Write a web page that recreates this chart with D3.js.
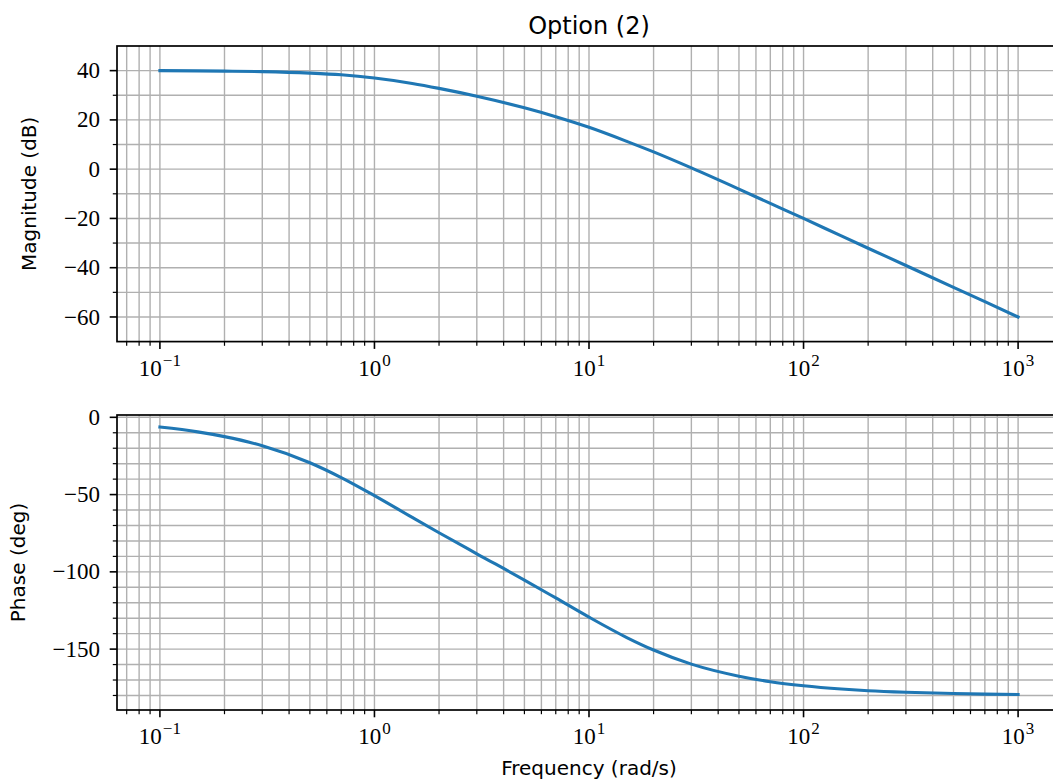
<!DOCTYPE html>
<html>
<head>
<meta charset="utf-8">
<script src="https://cdnjs.cloudflare.com/ajax/libs/d3/7.8.5/d3.min.js"></script>
<style>
  body { margin: 0; background: #fff; }
  svg { display: block; background: #fff; }
  .tick-label { font-family: "Liberation Serif", "DejaVu Serif", serif; font-size: 23px; fill: #000; }
  .axis-label { font-family: "DejaVu Sans", sans-serif; font-size: 20px; fill: #000; }
  .title { font-family: "DejaVu Sans", sans-serif; font-size: 24px; fill: #000; }
</style>
</head>
<body>
<svg id="chart" width="1053" height="783"></svg>
<script>
// DATA -----------------------------------------------------------
const freqs = [0.1, 0.15, 0.2, 0.3, 0.5, 0.7, 1, 1.5, 2, 3, 5, 7, 10, 15, 20, 30, 50, 70, 100, 150, 200, 300, 500, 700, 1000]
const magnitudeDb = [40.0, 39.9, 39.8, 39.6, 39.0, 38.3, 37.0, 34.8, 32.8, 29.6, 24.9, 21.3, 17.0, 11.3, 7.0, 0.5, -8.1, -13.9, -20.0, -27.1, -32.1, -39.1, -48.0, -53.8, -60.0]
const phaseDeg = [-6.3, -9.4, -12.5, -18.4, -29.4, -39.0, -50.7, -64.8, -74.7, -88.3, -105.3, -116.9, -129.3, -142.5, -150.6, -159.7, -167.5, -171.1, -173.7, -175.8, -176.9, -177.9, -178.7, -179.1, -179.4]

const xTickExponents = [-1, 0, 1, 2, 3]
const magTicks = [-60, -40, -20, 0, 20, 40]
const magMinorTicks = [-50, -30, -10, 10, 30]
const phaseTicks = [-150, -100, -50, 0]
const phaseMinorTicks = [-180, -170, -160, -140, -130, -120, -110, -90, -80, -70, -60, -40, -30, -20, -10]

const titleText = "Option (2)"
const xLabelText = "Frequency (rad/s)"

// LAYOUT -----------------------------------------------------------
const width = 1053
const height = 783
const plotLeft = 117
const plotRight = 1061

const svg = d3.select("#chart")

const xScale = d3.scaleLog()
    .domain([Math.pow(10, -1.2), Math.pow(10, 3.2)])
    .range([plotLeft, plotRight])

const xMinor = xScale.ticks().filter(d => Math.abs(Math.log10(d) - Math.round(Math.log10(d))) > 1e-6)
const xMajor = xTickExponents.map(e => Math.pow(10, e))

const gridColor = "#b0b0b0"
const fmt = v => v < 0 ? "\u2212" + Math.abs(v) : String(v)

function drawPanel(p) {
    const yScale = d3.scaleLinear().domain(p.domain).range([p.bottom, p.top])
    const g = svg.append("g")

    // grid
    xMajor.concat(xMinor).forEach(v => {
        g.append("line")
            .attr("x1", xScale(v)).attr("x2", xScale(v))
            .attr("y1", p.top).attr("y2", p.bottom)
            .attr("stroke", gridColor).attr("stroke-width", 1.4)
    })
    p.ticks.concat(p.minor).forEach(v => {
        g.append("line")
            .attr("x1", plotLeft).attr("x2", plotRight)
            .attr("y1", yScale(v)).attr("y2", yScale(v))
            .attr("stroke", gridColor).attr("stroke-width", 1.4)
    })

    // curve
    const line = d3.line()
        .curve(d3.curveMonotoneX)
        .x((d, i) => xScale(freqs[i]))
        .y(d => yScale(d))

    g.append("path")
        .datum(p.values)
        .attr("d", line)
        .attr("fill", "none")
        .attr("stroke", "#1f77b4")
        .attr("stroke-width", 3.1)
        .attr("stroke-linecap", "square")

    // ticks
    xMajor.forEach(v => {
        g.append("line")
            .attr("x1", xScale(v)).attr("x2", xScale(v))
            .attr("y1", p.bottom).attr("y2", p.bottom + 7.3)
            .attr("stroke", "#000").attr("stroke-width", 1.6)
        const t = g.append("text")
            .attr("class", "tick-label")
            .attr("x", xScale(v))
            .attr("y", p.bottom + 34)
            .attr("text-anchor", "middle")
        const e = Math.round(Math.log10(v))
        t.append("tspan").text("10")
        t.append("tspan")
            .attr("dx", 1)
            .attr("dy", -10)
            .style("font-size", "17px")
            .text(fmt(e))
    })
    xMinor.forEach(v => {
        g.append("line")
            .attr("x1", xScale(v)).attr("x2", xScale(v))
            .attr("y1", p.bottom).attr("y2", p.bottom + 4.2)
            .attr("stroke", "#000").attr("stroke-width", 1.2)
    })
    p.ticks.forEach(v => {
        g.append("line")
            .attr("x1", plotLeft - 7.3).attr("x2", plotLeft)
            .attr("y1", yScale(v)).attr("y2", yScale(v))
            .attr("stroke", "#000").attr("stroke-width", 1.6)
        g.append("text")
            .attr("class", "tick-label")
            .attr("x", plotLeft - 17)
            .attr("y", yScale(v))
            .attr("dy", "0.33em")
            .attr("text-anchor", "end")
            .text(fmt(v))
    })
    p.minor.forEach(v => {
        g.append("line")
            .attr("x1", plotLeft - 4.2).attr("x2", plotLeft)
            .attr("y1", yScale(v)).attr("y2", yScale(v))
            .attr("stroke", "#000").attr("stroke-width", 1.2)
    })

    // spines
    g.append("rect")
        .attr("x", plotLeft).attr("y", p.top)
        .attr("width", plotRight - plotLeft).attr("height", p.bottom - p.top)
        .attr("fill", "none").attr("stroke", "#000").attr("stroke-width", 1.7)

    // y label
    g.append("text")
        .attr("class", "axis-label")
        .attr("transform", `translate(${p.labelX}, ${(p.top + p.bottom) / 2}) rotate(-90)`)
        .attr("text-anchor", "middle")
        .text(p.label)
}

drawPanel({
    top: 46, bottom: 341.6, domain: [-70, 50],
    values: magnitudeDb, ticks: magTicks, minor: magMinorTicks,
    label: "Magnitude (dB)", labelX: 36
})

drawPanel({
    top: 415, bottom: 710, domain: [-189.4, 1.5],
    values: phaseDeg, ticks: phaseTicks, minor: phaseMinorTicks,
    label: "Phase (deg)", labelX: 25
})

// TITLE / X LABEL -----------------------------------------------------------
svg.append("text")
    .attr("class", "title")
    .attr("x", (plotLeft + plotRight) / 2)
    .attr("y", 34)
    .attr("text-anchor", "middle")
    .text(titleText)

svg.append("text")
    .attr("class", "axis-label")
    .attr("x", (plotLeft + plotRight) / 2)
    .attr("y", 775)
    .attr("text-anchor", "middle")
    .text(xLabelText)
</script>
</body>
</html>
